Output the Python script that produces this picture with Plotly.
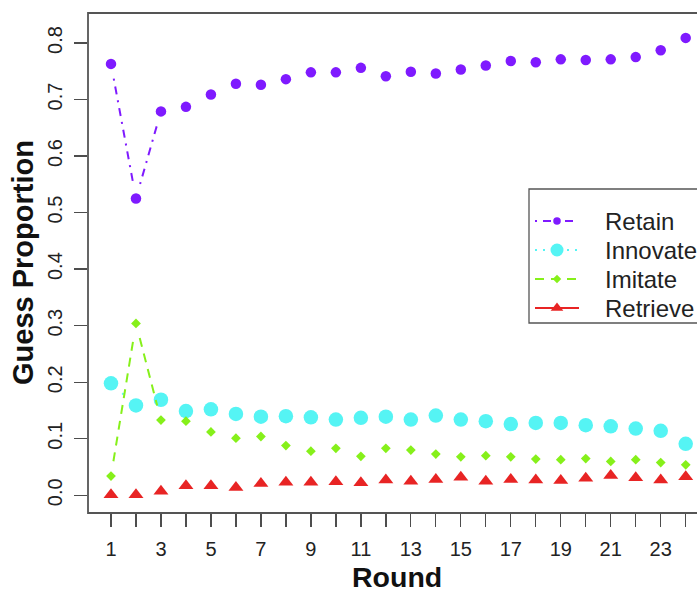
import math
import plotly.graph_objects as go

# ---------------- data ----------------
rounds = list(range(1, 25))
retain = [0.763, 0.525, 0.679, 0.687, 0.709, 0.728, 0.726, 0.736, 0.748, 0.748, 0.756, 0.741,
          0.749, 0.746, 0.753, 0.760, 0.768, 0.766, 0.771, 0.770, 0.771, 0.775, 0.787, 0.809]
innovate = [0.198, 0.159, 0.169, 0.149, 0.152, 0.144, 0.139, 0.140, 0.138, 0.134, 0.137, 0.139,
            0.134, 0.141, 0.134, 0.131, 0.126, 0.128, 0.128, 0.124, 0.122, 0.118, 0.114, 0.091]
imitate = [0.034, 0.304, 0.133, 0.131, 0.112, 0.101, 0.104, 0.088, 0.078, 0.083, 0.069, 0.083,
           0.080, 0.073, 0.068, 0.070, 0.068, 0.064, 0.063, 0.065, 0.060, 0.063, 0.058, 0.054]
retrieve = [0.001, 0.001, 0.007, 0.017, 0.017, 0.014, 0.021, 0.023, 0.023, 0.024, 0.022, 0.027,
            0.025, 0.028, 0.032, 0.025, 0.028, 0.027, 0.026, 0.030, 0.035, 0.031, 0.027, 0.033]
series_names = ["Retain", "Innovate", "Imitate", "Retrieve"]
y_ticks = [0.0, 0.1, 0.2, 0.3, 0.4, 0.5, 0.6, 0.7, 0.8]
x_ticks = list(range(1, 25))
x_tick_labels = [str(v) if v % 2 == 1 else "" for v in x_ticks]

# ---------------- layout geometry ----------------
OFF = 0  # page margin removed via post_script below
W, H = 697 - OFF, 592 - OFF
ML, MR, MT = 88 - OFF, 0, 13 - OFF
PLOT_BOTTOM = 513 - OFF
MB = H - PLOT_BOTTOM
PW, PH = W - ML - MR, PLOT_BOTTOM - MT
x_range = [0.08, 24.452]
y_range = [-0.0313, 0.853]
px_x = PW / (x_range[1] - x_range[0])
px_y = PH / (y_range[1] - y_range[0])

FONT = "Liberation Sans, Arial, Helvetica, sans-serif"
AXIS_COL = "#4d4d4d"
TXT_COL = "#222222"


def gapped(xs, ys, gap=15.0):
    """R type='b' style: line segments shortened near each point."""
    lx, ly = [], []
    for i in range(len(xs) - 1):
        dx = (xs[i + 1] - xs[i]) * px_x
        dy = (ys[i + 1] - ys[i]) * px_y
        d = math.hypot(dx, dy)
        if d > 2 * gap:
            f = gap / d
            lx += [xs[i] + (xs[i + 1] - xs[i]) * f, xs[i + 1] - (xs[i + 1] - xs[i]) * f, None]
            ly += [ys[i] + (ys[i + 1] - ys[i]) * f, ys[i + 1] - (ys[i + 1] - ys[i]) * f, None]
    return lx, ly


def wx(px):  # window pixel x -> paper fraction
    return (px - OFF - ML) / PW


def wy(py):  # window pixel y -> paper fraction
    return (PLOT_BOTTOM - (py - OFF)) / PH


styles = [
    dict(color="#7F1AFF", dash="2px,6px,8px,6px", symbol="circle", size=10.5, lsize=7.5),
    dict(color="#55F4F4", dash="2px,6px", symbol="circle", size=14.5, lsize=13),
    dict(color="#86F01A", dash="9px,7px", symbol="diamond", size=7.5, lsize=6.5),
    dict(color="#E82424", dash="solid", symbol="triangle-up", size=13, lsize=11),
]
values = [retain, innovate, imitate, retrieve]

fig = go.Figure()
for name, vals, st in zip(series_names, values, styles):
    lx, ly = gapped(rounds, vals)
    fig.add_trace(go.Scatter(x=lx, y=ly, mode="lines", showlegend=False, hoverinfo="skip",
                             line=dict(color=st["color"], width=2, dash=st["dash"])))
    fig.add_trace(go.Scatter(x=rounds, y=vals, mode="markers", showlegend=False, name=name,
                             marker=dict(color=st["color"], symbol=st["symbol"], size=st["size"],
                                         line=dict(width=0))))

# ---------------- legend (R-style box, partly beyond the right edge) ----------------
LEG_LEFT, LEG_TOP, LEG_BOTTOM = 529, 189, 323
LEG_ROWS = [221, 250, 279, 308]
KEY_X0, KEY_X1, KEY_XM, TEXT_X = 535, 579, 557, 603
for name, st, row in zip(series_names, styles, LEG_ROWS):
    # legend keys on a pixel-space overlay axis
    fig.add_trace(go.Scatter(x=[KEY_X0, KEY_X1], y=[row, row], mode="lines", xaxis="x2", yaxis="y2",
                             showlegend=False, hoverinfo="skip",
                             line=dict(color=st["color"], width=2, dash=st["dash"])))
    fig.add_trace(go.Scatter(x=[KEY_XM], y=[row], mode="markers", xaxis="x2", yaxis="y2",
                             showlegend=False, hoverinfo="skip",
                             marker=dict(color=st["color"], symbol=st["symbol"], size=st["lsize"],
                                         line=dict(width=0))))

annotations = [
    dict(text=name, xref="paper", yref="paper", x=wx(TEXT_X), y=wy(row), xanchor="left",
         yanchor="middle", showarrow=False, font=dict(family=FONT, size=24, color=TXT_COL))
    for name, row in zip(series_names, LEG_ROWS)
]
annotations += [
    dict(text="<b>Round</b>", xref="paper", yref="paper", x=wx(397), y=wy(577),
         xanchor="center", yanchor="middle", showarrow=False,
         font=dict(family=FONT, size=28.5, color="#111111")),
    dict(text="<b>Guess Proportion</b>", xref="paper", yref="paper", x=wx(23),
         y=0.5, xanchor="center", yanchor="middle", textangle=-90, showarrow=False,
         font=dict(family=FONT, size=29, color="#111111")),
]

fig.update_layout(
    width=W, height=H,
    margin=dict(l=ML, r=MR, t=MT, b=MB, pad=0, autoexpand=False),
    paper_bgcolor="white", plot_bgcolor="white",
    font=dict(family=FONT, size=20, color=TXT_COL),
    showlegend=False,
    xaxis=dict(range=x_range, tickvals=x_ticks, ticktext=x_tick_labels, ticks="outside", ticklen=13,
               tickwidth=1.3, tickcolor=AXIS_COL, showgrid=False, zeroline=False, showline=False,
               automargin=False, ticklabelstandoff=5, tickfont=dict(size=20, family=FONT, color=TXT_COL)),
    yaxis=dict(range=y_range, tickvals=y_ticks, ticktext=[f"{v:.1f}" for v in y_ticks], ticks="outside",
               ticklen=13, tickwidth=1.3, tickcolor=AXIS_COL, showgrid=False, zeroline=False,
               showline=False, tickangle=-90, ticklabelstandoff=4, automargin=False,
               tickfont=dict(size=20, family=FONT, color=TXT_COL)),
    # overlay axes in window-pixel units, used only for the legend keys
    xaxis2=dict(overlaying="x", anchor="y2", range=[OFF + ML, OFF + ML + PW], visible=False,
                fixedrange=True),
    yaxis2=dict(overlaying="y", anchor="x2", range=[OFF + PLOT_BOTTOM, OFF + MT], visible=False,
                fixedrange=True),
    shapes=[
        dict(type="rect", xref="paper", yref="paper", x0=wx(LEG_LEFT), x1=1.3, y0=wy(LEG_BOTTOM),
             y1=wy(LEG_TOP), line=dict(color="#555555", width=1.3), fillcolor="white", layer="below"),
        dict(type="rect", xref="paper", yref="paper", x0=0, x1=1.035, y0=0, y1=1,
             line=dict(color="#555555", width=1.8), fillcolor="rgba(0,0,0,0)", layer="above"),
    ],
    annotations=annotations,
)

fig.write_html(
    "out.html",
    config={"displayModeBar": False, "staticPlot": True},
    post_script="document.body.style.margin='0';"
                "document.documentElement.style.overflow='hidden';"
                "document.body.style.overflow='hidden';",
)
